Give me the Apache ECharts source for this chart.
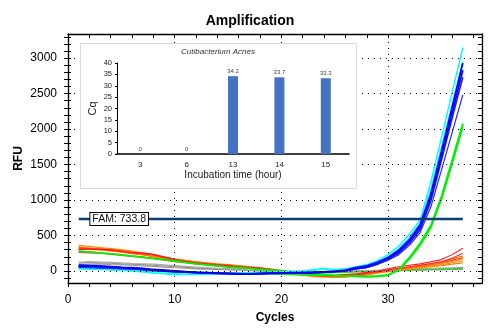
<!DOCTYPE html>
<html><head><meta charset="utf-8">
<script src="https://cdn.jsdelivr.net/npm/echarts@6/dist/echarts.min.js"></script>
<style>html,body{margin:0;padding:0;background:#fff}#c{width:500px;height:335px}</style>
</head><body><div id="c"></div>
<script>
// ---------- data ----------
const cycles = [1,2,3,4,5,6,7,8,9,10,11,12,13,14,15,16,17,18,19,20,21,22,23,24,25,26,27,28,29,30,31,32,33,34,35,36,37];

const red1 = [300,310,305,300,280,260,255,230,190,150,130,110,95,80,70,60,50,40,20,0,-20,-40,-55,-60,-60,-50,-40,-20,0,30,60,80,100,130,160,230,320];
const red2 = [320,315,300,290,275,250,240,235,200,160,135,115,100,90,75,60,45,35,15,-5,-25,-45,-60,-70,-75,-70,-55,-35,-10,15,40,60,80,105,130,180,250];
const red3 = [260,255,250,235,220,205,195,175,150,130,115,100,85,70,55,45,35,25,10,-5,-20,-35,-50,-60,-65,-60,-50,-35,-15,5,25,45,65,85,110,150,190];
const orange1 = [340,320,315,290,270,250,230,200,170,140,120,105,90,75,60,50,45,30,10,-10,-40,-60,-80,-85,-90,-85,-70,-50,-20,0,15,30,45,60,75,95,115];
const orange2 = [360,345,330,315,300,280,255,230,200,170,150,130,115,100,90,75,60,45,25,5,-20,-45,-65,-75,-85,-85,-75,-55,-30,-10,10,30,55,80,105,135,170];
const orange3 = [310,300,295,280,265,245,225,205,180,155,135,120,105,95,80,65,50,35,20,0,-25,-50,-70,-80,-85,-80,-65,-45,-25,-5,15,35,55,70,90,115,140];
const orange4 = [330,320,310,300,285,265,245,220,195,165,145,125,110,95,85,70,55,40,25,5,-15,-35,-55,-70,-75,-70,-60,-40,-20,0,25,50,75,100,130,170,210];
const olive1 = [270,265,255,245,230,215,200,180,160,140,120,105,90,75,60,50,40,30,15,0,-15,-30,-45,-55,-60,-55,-45,-30,-15,5,25,50,75,100,125,150,180];
const gray1 = [110,120,115,110,100,95,90,80,70,60,50,40,35,30,25,20,10,5,0,-5,-10,-10,-15,-15,-10,-10,-5,0,5,10,10,15,20,20,25,30,35];
const gray2 = [90,95,100,90,85,80,70,65,55,45,40,30,25,20,15,10,5,0,-5,-10,-15,-20,-20,-25,-20,-15,-10,-5,0,0,5,10,10,15,15,20,20];
const gray3 = [120,130,125,120,115,105,100,95,85,75,65,55,45,35,30,25,15,10,5,0,-5,-5,-10,-10,-5,0,0,5,10,15,20,25,30,35,40,45,50];
const greenNeg = [30,35,25,20,10,5,0,-5,-10,-15,-20,-20,-25,-25,-30,-30,-30,-25,-20,-15,-20,-25,-30,-30,-25,-20,-15,-10,-5,0,5,10,15,20,25,30,40];

const cyan1 = [45,40,35,30,20,10,-10,-30,-40,-50,-50,-45,-40,-40,-35,-30,-25,-20,-15,-10,-5,0,20,30,20,30,60,90,150,230,350,520,720,1250,1880,2520,3150];
const cyan2 = [30,25,20,15,10,0,-15,-30,-35,-40,-45,-50,-45,-40,-35,-30,-25,-20,-20,-15,-10,0,10,25,15,25,50,80,130,200,310,470,680,1150,1750,2350,2950];
const blue1 = [80,75,70,60,50,45,35,20,10,0,-10,-20,-25,-30,-35,-40,-40,-35,-30,-30,-25,-30,-25,-15,-5,10,45,70,120,190,290,440,650,1080,1680,2300,2930];
const blue2 = [60,70,55,50,45,35,25,15,5,-5,-15,-20,-30,-35,-40,-45,-40,-40,-35,-30,-30,-25,-20,-15,-5,5,40,60,110,180,270,420,620,1030,1620,2220,2830];
const blue3 = [70,60,60,45,40,30,20,10,0,-10,-20,-25,-30,-35,-35,-40,-45,-40,-35,-35,-30,-30,-25,-20,-10,0,30,50,100,160,250,390,580,980,1560,2150,2730];
const blue4 = [50,45,40,35,30,25,15,5,-5,-15,-20,-25,-30,-30,-35,-35,-40,-35,-30,-30,-25,-20,-20,-15,-10,0,25,45,90,150,230,360,540,900,1420,1950,2480];
const green1 = [280,270,255,240,225,210,190,175,160,140,120,100,85,70,55,45,35,20,10,0,-15,-30,-45,-55,-65,-70,-75,-80,-75,-60,20,190,390,640,1050,1560,2080];
const green2 = [40,35,30,20,15,10,5,0,-5,-10,-15,-20,-25,-30,-30,-35,-35,-40,-40,-45,-50,-55,-60,-60,-65,-70,-75,-80,-75,-55,10,170,360,610,1010,1510,2030];

const threshold = 733.8;
const thresholdRange = [1, 37];
const yTickLabels = [0,500,1000,1500,2000,2500,3000];
const xTickLabels = [0,10,20,30];
const yMinorTicks = [-100,0,100,200,300,400,500,600,700,800,900,1000,1100,1200,1300,1400,1500,1600,1700,1800,1900,2000,2100,2200,2300,2400,2500,2600,2700,2800,2900,3000,3100,3200,3300];
const xMinorTicks = [0,2,4,6,8,10,12,14,16,18,20,22,24,26,28,30,32,34,36,38];

const insetCategories = ['3','6','13','14','15'];
const insetCq = [0,0,34.2,33.7,33.3];

// ---------- chart ----------
const FONT = 'Arial, "Liberation Sans", sans-serif';
const chart = echarts.init(document.getElementById('c'), null, {renderer:'canvas'});
const pairs = vals => vals.map((v,i)=>[cycles[i], v]);

const curves = [
  [gray2,'#9a9a9a',1.2],[gray1,'#8c8c8c',1.2],[gray3,'#a8a8a8',1.2],
  [greenNeg,'#22dd22',1.2],
  [olive1,'#a6a626',1.1],
  [red3,'#ff3b3b',1.1],[orange3,'#ff8c1a',1.2],[orange1,'#ff7f00',1.3],
  [orange2,'#ff8a00',1.2],[orange4,'#ff6a10',1.1],[red2,'#ff2a2a',1.1],[red1,'#ff1a1a',1.1],
  [green2,'#1ee61e',1.8],[green1,'#00f000',1.8],
  [cyan2,'#19f0ff',1.4],[cyan1,'#00ffff',1.4],
  [blue4,'#2828ff',1.2],[blue3,'#1a1aff',1.5],[blue2,'#0a0aff',1.8],[blue1,'#0000f0',1.8]
];

const series = [];
series.push({
  type:'line', xAxisIndex:0, yAxisIndex:0, z:1, silent:true, symbol:'none',
  data:[], lineStyle:{opacity:0},
  markLine:{symbol:'none', silent:true, label:{show:false}, animation:false,
    lineStyle:{color:'#000', type:[1,5], width:1},
    data:[...yTickLabels.map(v=>({yAxis:v})), ...xTickLabels.filter(v=>v>0).map(v=>({xAxis:v}))]}
});
curves.forEach(([vals,color,w])=>{
  series.push({type:'line', xAxisIndex:0, yAxisIndex:0, z:3, symbol:'none', smooth:false,
    data:pairs(vals), lineStyle:{color, width:w}, silent:true});
});
series.push({
  type:'line', xAxisIndex:0, yAxisIndex:0, z:4, symbol:'none', silent:true,
  data:thresholdRange.map(c=>[c, threshold]),
  lineStyle:{color:'#0d3d75', width:2.5},
  markPoint:{symbol:'rect', symbolSize:0, silent:true, animation:false,
    data:[{coord:[2, threshold], value:threshold}],
    label:{show:true, position:'right', distance:1, formatter:'FAM: ' + threshold,
      fontFamily:FONT, fontSize:10.5, color:'#111', backgroundColor:'#fff',
      borderColor:'#000', borderWidth:1, padding:[1,2,0,2], lineHeight:11}}
});
series.push({
  type:'bar', xAxisIndex:2, yAxisIndex:3, z:60, data:insetCq, barWidth:10,
  itemStyle:{color:'#4472C4'},
  label:{show:true, position:'top', distance:2, fontFamily:FONT, fontSize:6, color:'#404040'}
});

const axisLineStyle = {color:'#000', width:1.3};
const plain = v => String(v);
chart.setOption({
  animation:false,
  textStyle:{fontFamily:FONT},
  title:{text:'Amplification', left:'center', top:9,
    textStyle:{fontFamily:FONT, fontSize:14, fontWeight:'bold', color:'#000'}},
  grid:[
    {left:68, right:18, top:34, bottom:52, containLabel:false},
    {left:117, width:232, top:63, height:91, containLabel:false, z:60}
  ],
  graphic:[
    {type:'rect', z:50, silent:true, shape:{x:80.5, y:43.5, width:276, height:145},
      style:{fill:'#fff', stroke:'#dcdcdc', lineWidth:1}},
    {type:'text', z:61, silent:true, x:218, y:52,
      style:{text:'Cutibacterium Acnes', font:'italic 8px ' + FONT, fill:'#333',
        textAlign:'center', textVerticalAlign:'middle'}}
  ],
  xAxis:[
    {type:'value', gridIndex:0, min:0, max:38.8, position:'bottom',
      name:'Cycles', nameLocation:'middle', nameGap:29, nameMoveOverlap:false,
      nameTextStyle:{fontFamily:FONT, fontSize:12, fontWeight:'bold', color:'#000'},
      axisLine:{show:true, onZero:false, lineStyle:axisLineStyle},
      axisTick:{show:true, inside:false, length:4, customValues:xMinorTicks, lineStyle:{color:'#000'}},
      axisLabel:{customValues:xTickLabels, formatter:plain, fontFamily:FONT, fontSize:12, color:'#000', margin:11},
      splitLine:{show:false}},
    {type:'value', gridIndex:0, min:0, max:38.8, position:'top',
      axisLine:{show:true, onZero:false, lineStyle:axisLineStyle},
      axisTick:{show:true, inside:true, length:4, customValues:xMinorTicks, lineStyle:{color:'#000'}},
      axisLabel:{show:false}, splitLine:{show:false}},
    {type:'category', gridIndex:1, data:insetCategories, z:60,
      name:'Incubation time (hour)', nameLocation:'middle', nameGap:16, nameMoveOverlap:false,
      nameTextStyle:{fontFamily:FONT, fontSize:10, color:'#222'},
      axisLine:{show:true, onZero:false, lineStyle:{color:'#000', width:1.5}},
      axisTick:{show:false},
      axisLabel:{fontFamily:FONT, fontSize:8, color:'#222', margin:7},
      splitLine:{show:false}}
  ],
  yAxis:[
    {type:'value', gridIndex:0, min:-170, max:3340, position:'left',
      name:'RFU', nameLocation:'middle', nameGap:43, nameRotate:90, nameMoveOverlap:false,
      nameTextStyle:{fontFamily:FONT, fontSize:12, fontWeight:'bold', color:'#000'},
      axisLine:{show:true, onZero:false, lineStyle:axisLineStyle},
      axisTick:{show:true, inside:false, length:4, customValues:yMinorTicks, lineStyle:{color:'#000'}},
      axisLabel:{customValues:yTickLabels, formatter:plain, fontFamily:FONT, fontSize:12, color:'#000', margin:11},
      splitLine:{show:false}},
    {type:'value', gridIndex:0, min:-170, max:3340, position:'right',
      axisLine:{show:true, onZero:false, lineStyle:axisLineStyle},
      axisTick:{show:true, inside:true, length:4, customValues:yMinorTicks, lineStyle:{color:'#000'}},
      axisLabel:{show:false}, splitLine:{show:false}},
    {type:'value', gridIndex:0, min:-170, max:3340, position:'left',
      axisLine:{show:false, onZero:false},
      axisTick:{show:true, inside:true, length:3, customValues:yMinorTicks, lineStyle:{color:'#000'}},
      axisLabel:{show:false}, splitLine:{show:false}},
    {type:'value', gridIndex:1, min:0, max:40, interval:5, z:60,
      name:'Cq', nameLocation:'middle', nameGap:19, nameRotate:90, nameMoveOverlap:false,
      nameTextStyle:{fontFamily:FONT, fontSize:11, color:'#222'},
      axisLine:{show:true, onZero:false, lineStyle:{color:'#000', width:1}},
      axisTick:{show:true, inside:false, length:2, lineStyle:{color:'#000'}},
      axisLabel:{fontFamily:FONT, fontSize:7.5, color:'#222', margin:5},
      splitLine:{show:false}}
  ],
  series
});
</script></body></html>
